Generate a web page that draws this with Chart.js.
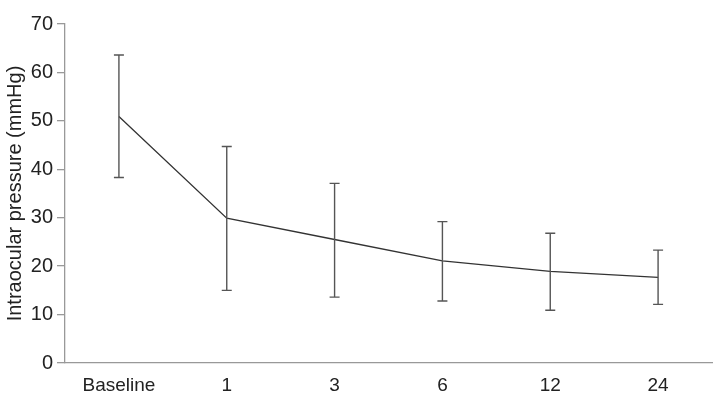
<!DOCTYPE html>
<html>
<head>
<meta charset="utf-8">
<script src="https://cdn.jsdelivr.net/npm/chart.js@4"></script>
<style>
  html, body { margin: 0; padding: 0; background: #fff; }
  #wrap { width: 714px; height: 404px; position: relative; }
</style>
</head>
<body>
<div id="wrap"><canvas id="c" width="714" height="404"></canvas></div>
<script>
const categories = ['Baseline', '1', '3', '6', '12', '24'];
const meanIOP = [50.9, 29.9, 25.5, 21.1, 18.9, 17.7];
const upperIOP = [63.6, 44.7, 37.1, 29.2, 26.8, 23.3];
const lowerIOP = [38.3, 15.0, 13.6, 12.8, 10.9, 12.1];
const yTicks = [0, 10, 20, 30, 40, 50, 60, 70];

const FONT = "'Liberation Sans', Arial, Helvetica, sans-serif";

const errorBars = {
  id: 'errorBars',
  afterDatasetsDraw(chart) {
    const ctx = chart.ctx;
    const xs = chart.scales.x, ys = chart.scales.y;
    ctx.save();
    ctx.strokeStyle = '#555';
    ctx.lineWidth = 1.4;
    categories.forEach((c, i) => {
      const x = xs.getPixelForValue(i);
      const yt = ys.getPixelForValue(upperIOP[i]);
      const yb = ys.getPixelForValue(lowerIOP[i]);
      ctx.beginPath();
      ctx.moveTo(x, yt); ctx.lineTo(x, yb);
      ctx.moveTo(x - 5, yt); ctx.lineTo(x + 5, yt);
      ctx.moveTo(x - 5, yb); ctx.lineTo(x + 5, yb);
      ctx.stroke();
    });
    ctx.restore();
  }
};

new Chart(document.getElementById('c'), {
  type: 'line',
  data: {
    labels: categories,
    datasets: [{
      data: meanIOP,
      borderColor: '#333',
      borderWidth: 1.3,
      pointRadius: 0,
      tension: 0,
      fill: false
    }]
  },
  options: {
    responsive: false,
    animation: false,
    layout: { padding: { top: 24, right: 2, left: 0, bottom: 0 } },
    plugins: { legend: { display: false }, tooltip: { enabled: false } },
    scales: {
      x: {
        type: 'category',
        offset: true,
        afterFit(axis) { axis.height = 41; },
        grid: { display: false, drawTicks: false },
        border: { display: true, color: '#999', width: 1.3 },
        ticks: { color: '#222', font: { family: FONT, size: 19 }, padding: 11, maxRotation: 0 }
      },
      y: {
        min: 0, max: 70,
        afterFit(axis) { axis.width = 65; },
        afterBuildTicks(axis) { axis.ticks = yTicks.map(v => ({ value: v })); },
        grid: { display: true, drawOnChartArea: false, drawTicks: true, tickLength: 8, color: '#999', lineWidth: 1.3 },
        border: { display: true, color: '#999', width: 1.3 },
        ticks: { color: '#222', font: { family: FONT, size: 20 }, padding: 4 },
        title: { display: true, text: 'Intraocular pressure (mmHg)', color: '#222', font: { family: FONT, size: 20 }, padding: { top: 3, bottom: 2 } }
      }
    }
  },
  plugins: [errorBars]
});
</script>
</body>
</html>
